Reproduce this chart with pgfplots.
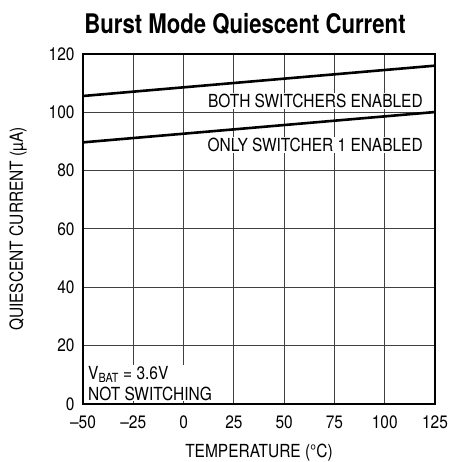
\documentclass[border=0pt]{standalone}
\usepackage{fontspec}
\setmainfont{TeX Gyre Heros}[FakeStretch=0.86]
\newfontfamily\titlefont{TeX Gyre Heros}[FakeStretch=0.82]
\usepackage{pgfplots}
\pgfplotsset{compat=1.18}
\begin{document}
\begin{tikzpicture}
\path[use as bounding box] (-83pt,-58pt) rectangle (365pt,404pt);
\begin{axis}[
  scale only axis,
  width=352pt, height=350pt,
  at={(0pt,0pt)}, anchor=south west,
  xmin=-50, xmax=125, ymin=0, ymax=120,
  xtick={-50,-25,0,25,50,75,100,125},
  xticklabels={–50,–25,0,25,50,75,100,125},
  ytick={0,20,40,60,80,100,120},
  yticklabels={0,20,40,60,80,100,120},
  major tick length=0pt,
  grid=major,
  major grid style={line width=1pt, black!75},
  axis line style={line width=1.6pt},
  tick label style={font=\fontsize{18}{20}\selectfont},
  label style={font=\fontsize{18}{20}\selectfont},
  xticklabel style={yshift=-8pt},
  yticklabel style={xshift=-5pt},
  xlabel={TEMPERATURE (°C)},
  ylabel={QUIESCENT CURRENT (µA)},
  xlabel style={yshift=-9pt},
  ylabel style={yshift=15pt},
  clip=false,
]
\addplot[line width=2.6pt, black] coordinates {(-50,105.6) (125,116.0)};
\addplot[line width=2.6pt, black] coordinates {(-50,89.7) (125,100.1)};
\node[fill=white, inner sep=1pt, anchor=east, font=\fontsize{18}{20}\selectfont] at (axis cs:119.5,104.0) {BOTH SWITCHERS ENABLED};
\node[fill=white, inner sep=1pt, anchor=east, font=\fontsize{18}{20}\selectfont] at (axis cs:119.5,88.8) {ONLY SWITCHER 1 ENABLED};
\node[fill=white, inner sep=1pt, anchor=south west, align=left, font=\fontsize{18}{21}\selectfont] at (axis cs:-48,0.8) {V\textsubscript{BAT} = 3.6V\\NOT SWITCHING};
\end{axis}
\node[font=\titlefont\bfseries\fontsize{27}{29}\selectfont] at (162pt,380pt) {Burst Mode Quiescent Current};
\end{tikzpicture}
\end{document}
